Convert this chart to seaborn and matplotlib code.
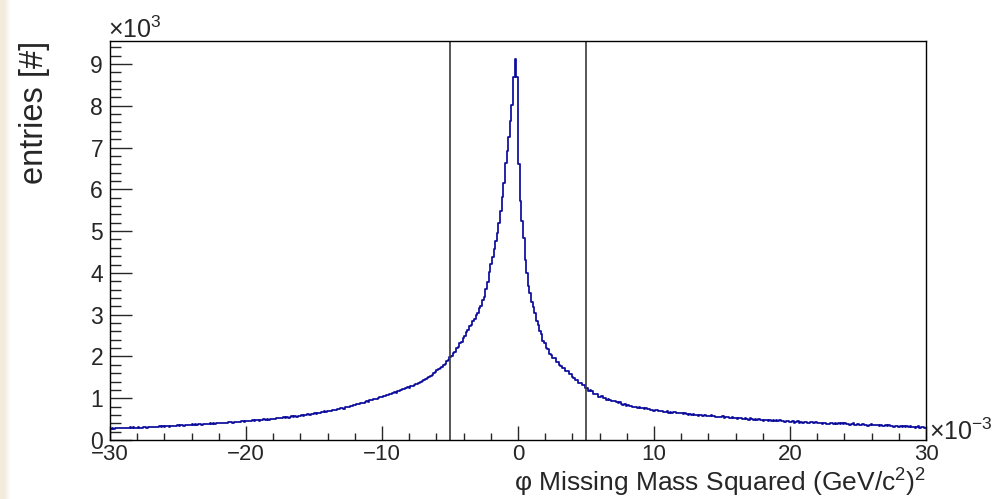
import numpy as np
import pandas as pd
import matplotlib
matplotlib.use("Agg")
import matplotlib.pyplot as plt
from matplotlib.ticker import MultipleLocator, FuncFormatter
import seaborn as sns

# ---- data (x in units of 1e-3 GeV^2/c^4, 500 bins of 0.12e-3) ----
x_min, x_max, n_bins = -30.0, 30.0, 500
cut_lines = [-5.0, 5.0]
y_ticks_major = [0, 1000, 2000, 3000, 4000, 5000, 6000, 7000, 8000, 9000]

counts_left = [
    272, 285, 268, 281, 290, 276, 284, 293, 279, 288,
    296, 283, 301, 290, 305, 294, 287, 306, 299, 293,
    304, 312, 298, 316, 309, 303, 319, 311, 322, 308,
    326, 317, 331, 322, 337, 328, 319, 340, 333, 326,
    341, 352, 336, 349, 358, 344, 361, 353, 366, 350,
    372, 360, 379, 368, 384, 375, 363, 388, 380, 391,
    385, 398, 392, 406, 389, 411, 401, 395, 414, 405,
    418, 409, 427, 420, 433, 415, 438, 426, 441, 430,
    445, 458, 436, 452, 465, 448, 461, 472, 455, 468,
    476, 463, 484, 479, 492, 471, 498, 488, 505, 494,
    512, 503, 521, 516, 534, 523, 541, 530, 548, 537,
    552, 566, 545, 571, 559, 580, 568, 589, 576, 597,
    598, 612, 604, 625, 618, 637, 629, 648, 655, 668,
    672, 686, 679, 697, 705, 692, 716, 724, 712, 738,
    741, 755, 768, 752, 779, 790, 784, 806, 821, 838,
    846, 862, 855, 878, 891, 884, 906, 922, 915, 947,
    955, 972, 991, 983, 1008, 1026, 1018, 1047, 1061, 1079,
    1085, 1102, 1096, 1124, 1141, 1133, 1162, 1178, 1191, 1213,
    1225, 1238, 1262, 1251, 1286, 1302, 1319, 1341, 1336, 1372,
    1398, 1405, 1446, 1450, 1491, 1499, 1541, 1553, 1606, 1617,
    1676, 1688, 1733, 1749, 1802, 1827, 1884, 1909, 1978, 2001,
    2088, 2112, 2196, 2225, 2313, 2348, 2441, 2482, 2589, 2631,
    2720, 2750, 2856, 2890, 3001, 3047, 3170, 3215, 3356, 3430,
    3610, 3790, 4020, 4210, 4390, 4570, 4760, 4960, 5190, 5480,
    5820, 6140, 6620, 6920, 7260, 7640, 8020, 8680, 9110, 8680,
]
counts_right = [
    6610, 5720, 5230, 4830, 4310, 4000, 3690, 3510, 3310, 3180,
    3030, 2860, 2750, 2600, 2530, 2380, 2320, 2200, 2170, 2065,
    2045, 1972, 1958, 1876, 1870, 1795, 1781, 1722, 1716, 1655,
    1641, 1577, 1569, 1502, 1495, 1433, 1428, 1366, 1363, 1305,
    1311, 1250, 1236, 1183, 1190, 1181, 1110, 1097, 1102, 1034,
    1039, 1049, 999, 1003, 961, 978, 966, 931, 924, 927,
    914, 877, 900, 868, 847, 855, 818, 842, 820, 803,
    788, 799, 797, 761, 788, 761, 766, 742, 765, 738,
    749, 720, 725, 699, 721, 726, 689, 690, 701, 665,
    675, 694, 657, 672, 640, 666, 668, 641, 643, 653,
    647, 618, 650, 623, 610, 624, 596, 624, 608, 596,
    586, 600, 603, 569, 602, 577, 585, 565, 591, 568,
    580, 554, 562, 539, 562, 570, 534, 539, 551, 518,
    528, 549, 515, 530, 501, 527, 531, 504, 508, 519,
    514, 487, 519, 493, 483, 497, 470, 499, 485, 474,
    464, 480, 484, 451, 485, 461, 471, 452, 478, 456,
    469, 445, 454, 432, 456, 466, 431, 437, 450, 418,
    429, 451, 418, 434, 406, 433, 439, 413, 418, 430,
    425, 399, 433, 408, 398, 413, 388, 417, 404, 394,
    385, 401, 407, 374, 408, 386, 396, 378, 405, 384,
    397, 373, 383, 361, 386, 396, 362, 368, 382, 350,
    362, 384, 352, 368, 341, 368, 374, 348, 354, 366,
    361, 336, 369, 344, 335, 350, 324, 354, 341, 330,
    322, 338, 343, 311, 345, 322, 333, 314, 341, 320,
    333, 309, 319, 297, 321, 332, 297, 303, 317, 285,
]
counts = counts_left + counts_right
edges = np.linspace(x_min, x_max, n_bins + 1)
centers = 0.5 * (edges[:-1] + edges[1:])
df = pd.DataFrame({"mm2": centers, "entries": counts})

# ---- style ----
sns.set_style("white")
plt.rcParams["font.family"] = ["Liberation Sans", "DejaVu Sans"]
plt.rcParams["mathtext.fontset"] = "custom"
plt.rcParams["mathtext.rm"] = "Liberation Sans"
plt.rcParams["mathtext.it"] = "Liberation Sans:italic"

fig = plt.figure(figsize=(9.96, 4.99), dpi=100, facecolor="white")

# soft beige strip on the left page edge
bg = fig.add_axes([0, 0, 1, 1], zorder=-10)
bg.set_axis_off()
w = 996
xx = np.arange(w)
alpha = np.clip((10 - xx) / 6.0, 0, 1)
beige = np.array([0.953, 0.922, 0.859])
img = np.ones((2, w, 3)) * (1 - alpha[None, :, None]) + beige[None, None, :] * alpha[None, :, None]
bg.imshow(img, aspect="auto", extent=[0, 1, 0, 1])
bg.set_xlim(0, 1)
bg.set_ylim(0, 1)

ax = fig.add_axes([110 / 996, 1 - 440 / 499, 816 / 996, 399 / 499])
ax.set_facecolor("white")

sns.histplot(data=df, x="mm2", weights="entries", bins=list(edges), element="step",
             fill=False, color="#0b0b9c", linewidth=1.25, ax=ax)

for xc in cut_lines:
    ax.axvline(xc, color="#3a3a3a", linewidth=1.2)

ax.set_xlim(x_min, x_max)
ax.set_ylim(0, 9550)

for s in ax.spines.values():
    s.set_visible(True)
    s.set_color("black")
    s.set_linewidth(1.0)

ax.xaxis.set_major_locator(MultipleLocator(10))
ax.xaxis.set_minor_locator(MultipleLocator(2))
ax.set_yticks(y_ticks_major)
ax.yaxis.set_minor_locator(MultipleLocator(200))
ax.yaxis.set_major_formatter(FuncFormatter(lambda v, p: f"{int(round(v / 1000))}"))
ax.xaxis.set_major_formatter(FuncFormatter(lambda v, p: f"{int(round(v))}".replace("-", "\u2212")))

ax.tick_params(axis="x", which="major", direction="in", length=10, width=1.0,
               labelsize=16, pad=3, bottom=True, top=False)
ax.tick_params(axis="x", which="minor", direction="in", length=5, width=1.0,
               bottom=True, top=False)
ax.tick_params(axis="y", which="major", direction="in", length=16, width=1.0,
               labelsize=16.5, pad=5, left=True, right=False)
ax.tick_params(axis="y", which="minor", direction="in", length=8, width=1.0,
               left=True, right=False)

ax.set_ylabel("entries [#]", fontsize=23.5, loc="top")
ax.yaxis.set_label_coords((50 - 110) / 816, 1.0)
ax.set_xlabel(r"φ Missing Mass Squared (GeV/c$^{2}$)$^{2}$", fontsize=19, loc="right")
ax.xaxis.set_label_coords(1.0, (440 - 467) / 399)

fig.text(108 / 996, 1 - 38 / 499, r"$\times$10$^{3}$", fontsize=18, ha="left", va="baseline")
fig.text(929 / 996, 1 - 440 / 499, r"$\times$10$^{-3}$", fontsize=18, ha="left", va="baseline")

fig.savefig("out.png", dpi=100, facecolor=fig.get_facecolor())
